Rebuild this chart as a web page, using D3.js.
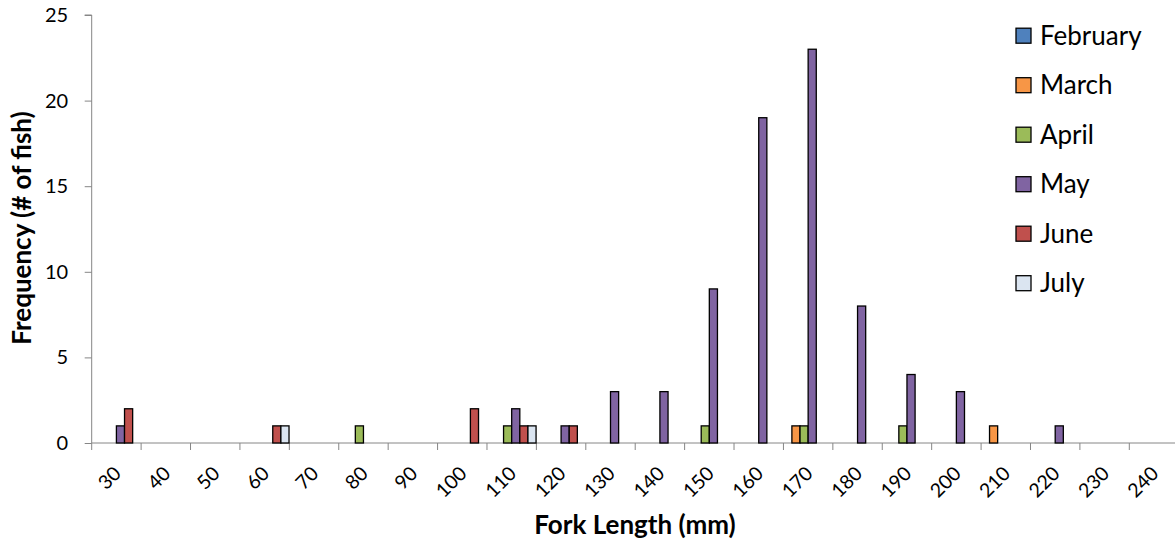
<!DOCTYPE html>
<html><head><meta charset="utf-8">
<script src="https://cdn.jsdelivr.net/npm/d3@7"></script>
<style>body{margin:0;background:#fff;} svg{display:block;font-family:Lato,"Open Sans",sans-serif;}</style>
</head><body>
<svg id="c" width="1175" height="545"></svg>
<script>
const categories = ["30","40","50","60","70","80","90","100","110","120","130","140","150","160","170","180","190","200","210","220","230","240"];
const seriesNames = ["February","March","April","May","June","July"];
const colors = ["#4F81BD","#F79646","#9BBB59","#8064A2","#C0504D","#DBE5F1"];
const february = [0,0,0,0,0,0,0,0,0,0,0,0,0,0,0,0,0,0,0,0,0,0];
const march    = [0,0,0,0,0,0,0,0,0,0,0,0,0,0,1,0,0,0,1,0,0,0];
const april    = [0,0,0,0,0,1,0,0,1,0,0,0,1,0,1,0,1,0,0,0,0,0];
const may      = [1,0,0,0,0,0,0,0,2,1,3,3,9,19,23,8,4,3,0,1,0,0];
const june     = [2,0,0,1,0,0,0,2,1,1,0,0,0,0,0,0,0,0,0,0,0,0];
const july     = [0,0,0,1,0,0,0,0,1,0,0,0,0,0,0,0,0,0,0,0,0,0];
const yTicks = [0,5,10,15,20,25];
const seriesValues = [february, march, april, may, june, july];

const svg = d3.select("#c");
const x0 = 91.7, step = 49.41;
const x = d3.scaleBand().domain(categories).range([x0, x0 + step*categories.length]).padding(0);
const xs = d3.scaleBand().domain(seriesNames).range([0, x.bandwidth()]).paddingInner(0).paddingOuter(0.04);
const y = d3.scaleLinear().domain([0,25]).range([443,15]);
const axisColor = "#868686";

// y axis
const yAxis = svg.append("g").attr("transform", `translate(${x0},0)`)
  .call(d3.axisLeft(y).tickValues(yTicks).tickSize(7).tickPadding(16.5));
yAxis.select(".domain").attr("stroke", axisColor).attr("d", `M-7,${y(25)}H0V${y(0)}`);
yAxis.selectAll(".tick line").attr("stroke", axisColor);
yAxis.selectAll(".tick text").attr("font-size", 20).attr("fill", "#000").attr("font-family","Lato");

// x axis baseline + ticks at category boundaries
svg.append("line").attr("x1", x0).attr("x2", 1175).attr("y1", y(0)).attr("y2", y(0))
  .attr("stroke", axisColor);
const bounds = categories.map(c => x(c)).concat([x(categories[categories.length-1]) + x.bandwidth()]);
svg.append("g").selectAll("line").data(bounds).join("line")
  .attr("x1", d => d).attr("x2", d => d).attr("y1", y(0)).attr("y2", y(0)+7)
  .attr("stroke", axisColor);
svg.append("g").selectAll("text").data(categories).join("text")
  .attr("transform", d => `translate(${x(d) + x.bandwidth()/2 + 1},${y(0)+27}) rotate(-45)`)
  .attr("text-anchor", "end").attr("dy", "0.35em")
  .attr("font-size", 19.5).text(d => d);

// bars
seriesNames.forEach((s, si) => {
  svg.append("g").selectAll("rect")
    .data(seriesValues[si].map((v, i) => ({c: categories[i], v})).filter(d => d.v > 0))
    .join("rect")
    .attr("x", d => x(d.c) + xs(s))
    .attr("width", xs.bandwidth())
    .attr("y", d => y(d.v))
    .attr("height", d => y(0) - y(d.v))
    .attr("fill", colors[si]).attr("stroke", "#000").attr("stroke-width", 1.3);
});

// axis titles
svg.append("text").attr("transform", "translate(31,228) rotate(-90)")
  .attr("text-anchor", "middle").attr("font-weight", "bold").attr("font-size", 26)
  .text("Frequency (# of fish)");
svg.append("text").attr("x", 635).attr("y", 534)
  .attr("text-anchor", "middle").attr("font-weight", "bold").attr("font-size", 26)
  .text("Fork Length (mm)");

// legend
const lg = svg.append("g").selectAll("g").data(seriesNames).join("g")
  .attr("transform", (d, i) => `translate(1016,${35.7 + i*49.5})`);
lg.append("rect").attr("x", 0).attr("y", -7.5).attr("width", 15).attr("height", 15)
  .attr("fill", (d, i) => colors[i]).attr("stroke", "#000").attr("stroke-width", 1.3);
lg.append("text").attr("x", 24).attr("dy", "0.35em").attr("font-size", 26).text(d => d);
</script>
</body></html>
